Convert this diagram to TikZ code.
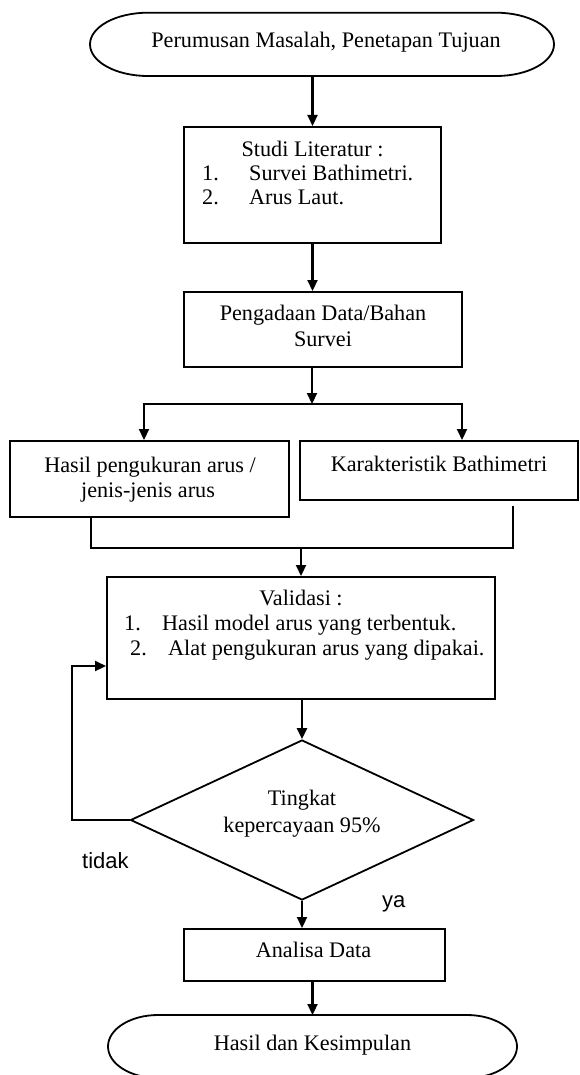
\documentclass[tikz,border=0pt]{standalone}
\usepackage{fontspec}
\setmainfont{Liberation Serif}
\newfontfamily\labelsans{Liberation Sans}
\usetikzlibrary{arrows.meta,shapes.geometric}
\begin{document}
\begin{tikzpicture}[x=1pt,y=-1pt,
  box/.style={draw,line width=2pt,rectangle,inner sep=0pt},
  shell/.style={rectangle,inner sep=0pt,outer sep=0pt},
  txt/.style={font=\fontsize{22.2}{25}\selectfont,inner sep=0pt,anchor=base},
  txtw/.style={txt,anchor=base west},
  lbl/.style={font=\labelsans\fontsize{22}{25}\selectfont,inner sep=0pt,anchor=base west},
  ln/.style={line width=2pt},
  arr/.style={line width=2.2pt,-{Triangle[length=11pt,width=10pt]}},
  term/.style={line width=1.8pt}]
\useasboundingbox (0,0) rectangle (579,1075);

% top terminator
\node[shell,minimum width=464pt,minimum height=63.3pt] (t1) at (322,44.35) {};
\draw[term] ([xshift=58pt]t1.north west) -- ([xshift=-58pt]t1.north east)
  arc[start angle=90,end angle=-90,x radius=58pt,y radius=31.65pt]
  -- ([xshift=58pt]t1.south west)
  arc[start angle=270,end angle=90,x radius=58pt,y radius=31.65pt] -- cycle;
\node[txt] (t1t) at (326,48) {Perumusan Masalah, Penetapan Tujuan};

% Studi Literatur
\node[box,minimum width=257pt,minimum height=116pt] (s1) at (312.5,185) {};
\node[txt] (s1a) at (312.5,157) {Studi Literatur :};
\node[txtw] (s1b) at (202,181) {1.};
\node[txtw] (s1c) at (249,181) {Survei Bathimetri.};
\node[txtw] (s1d) at (202,205) {2.};
\node[txtw] (s1e) at (249,205) {Arus Laut.};

% Pengadaan
\node[box,minimum width=278pt,minimum height=75pt] (p1) at (323,329.5) {};
\node[txt] (p1a) at (323,320) {Pengadaan Data/Bahan};
\node[txt] (p1b) at (323,346) {Survei};

% left / right boxes
\node[box,minimum width=279pt,minimum height=76pt] (h1) at (149.5,479) {};
\node[txt] (h1a) at (150,472) {Hasil pengukuran arus /};
\node[txt] (h1b) at (148,497) {jenis-jenis arus};
\node[box,minimum width=278pt,minimum height=59pt] (k1) at (439,470.5) {};
\node[txt] (k1a) at (439,471) {Karakteristik Bathimetri};

% Validasi
\node[box,minimum width=388pt,minimum height=122pt] (v1) at (301,638) {};
\node[txt] (v1a) at (301,605) {Validasi :};
\node[txtw] (v1b) at (124,630) {1.};
\node[txtw] (v1c) at (162,630) {Hasil model arus yang terbentuk.};
\node[txtw] (v1d) at (130,655) {2.};
\node[txtw] (v1e) at (168,655) {Alat pengukuran arus yang dipakai.};

% decision
\node[diamond,draw,line width=1.8pt,inner sep=0pt,minimum width=343pt,minimum height=160pt] (d1) at (302,820) {};
\node[txt] (d1a) at (302,805) {Tingkat};
\node[txt] (d1b) at (302,832) {kepercayaan 95\%};

% Analisa
\node[box,minimum width=261pt,minimum height=52pt] (a1) at (314.5,955) {};
\node[txt] (a1a) at (313.5,957) {Analisa Data};

% bottom terminator
\node[shell,minimum width=409pt,minimum height=63pt] (t2) at (312.5,1046.5) {};
\draw[term] ([xshift=50pt]t2.north west) -- ([xshift=-50pt]t2.north east)
  arc[start angle=90,end angle=-90,x radius=50pt,y radius=31.5pt]
  -- ([xshift=50pt]t2.south west)
  arc[start angle=270,end angle=90,x radius=50pt,y radius=31.5pt] -- cycle;
\node[txt] (t2t) at (312.5,1050) {Hasil dan Kesimpulan};

% labels
\node[lbl] (no) at (82,868) {tidak};
\node[lbl] (yes) at (382,907) {ya};

% connectors
\draw[arr] (s1.north |- t1.south) -- (s1.north);
\draw[arr] (s1.south) -- (s1.south |- p1.north);

\coordinate (j1) at (312,404);
\coordinate (jl) at (144,404);
\coordinate (jr) at (462,404);
\draw[arr] (j1 |- p1.south) -- (j1);
\draw[arr] (jr) -- (jl) -- (jl |- h1.north);
\draw[arr] (jl) -- (jr) -- (jr |- k1.north);

\coordinate (ml) at (91,548);
\coordinate (mr) at (513,548);
\coordinate (mrt) at (513,506);
\coordinate (mc) at (301,548);
\draw[ln] (ml |- h1.south) -- (ml) -- (mr) -- (mrt);
\draw[arr] (mc) -- (mc |- v1.north);

\draw[arr] (d1.north |- v1.south) -- (d1.north);

\coordinate (lb) at (72,666);
\draw[arr] (d1.west) -| (lb) -- (lb -| v1.west);

\draw[arr] (d1.south) -- (d1.south |- a1.north);
\draw[arr] (t2.north |- a1.south) -- (t2.north);
\end{tikzpicture}
\end{document}
